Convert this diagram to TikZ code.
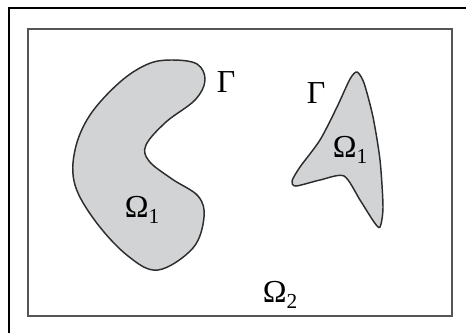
\documentclass[tikz,border=0pt]{standalone}
\usepackage{amsmath}
\usepackage{xcolor}
\usepackage{fontspec}
\setmainfont{Liberation Serif}
\usepackage{tikz}
\definecolor{borde}{RGB}{85,85,85}
\definecolor{region}{RGB}{210,211,212}
\definecolor{contorno}{RGB}{45,45,45}
\newcommand{\subind}[1]{\raisebox{-0.45ex}{\fontsize{16}{18}\selectfont #1}}

\begin{document}
\begin{tikzpicture}[x=0.75pt,y=-0.75pt,
  dominio/.style={draw=contorno,line width=1.1pt,fill=region},
  etiqueta/.style={inner sep=0pt,font=\fontsize{24}{28}\selectfont}]
\useasboundingbox (0,0) rectangle (466,333);
% marco exterior (cortado)
\draw[line width=1.2pt,black] (9,333) -- (9,8) -- (466,8);
% rectangulo del dominio
\draw[borde,line width=1.5pt] (28,29) rectangle (452,316);
% region izquierda
\draw[dominio] plot[smooth cycle,tension=0.6] coordinates {
(172,60) (197,64) (205,80) (195,100) (166,122) (146,145) (149,161)
(172,179) (198,196) (204,217) (193,248) (158,270) (128,256)
(96,222) (75,185) (75,150) (90,115) (120,82) (148,64)};
% region derecha
\draw[dominio] plot[smooth cycle,tension=0.45] coordinates {
(357,72) (364,83) (373,117) (380,160) (383,207) (380,227) (374,222)
(360,200) (344,176) (320,180) (296,186) (292,181) (300,167)
(320,140) (337,107) (350,79)};
% etiquetas
\node[etiqueta] (gamma-izq) at (226,82) {Γ};
\node[etiqueta] (gamma-der) at (316,93) {Γ};
\node[etiqueta] (omega-izq) at (142,210) {Ω\subind{1}};
\node[etiqueta] (omega-der) at (350,150) {Ω\subind{1}};
\node[etiqueta] (omega-ext) at (280,295) {Ω\subind{2}};
\end{tikzpicture}
\end{document}
